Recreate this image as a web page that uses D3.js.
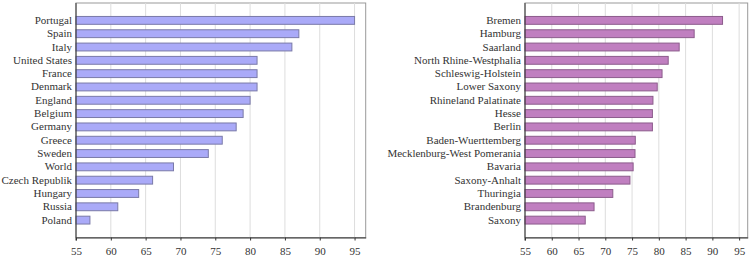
<!DOCTYPE html>
<html>
<head>
<meta charset="utf-8">
<script src="https://cdn.jsdelivr.net/npm/d3@7"></script>
<style>
  body { margin: 0; background: #fff; }
</style>
</head>
<body>
<div id="container"></div>
<script>
const countries = ["Portugal", "Spain", "Italy", "United States", "France", "Denmark",
  "England", "Belgium", "Germany", "Greece", "Sweden", "World", "Czech Republik",
  "Hungary", "Russia", "Poland"];
const countryValues = [95, 87, 86, 81, 81, 81, 80, 79, 78, 76, 74, 69, 66, 64, 61, 57];

const states = ["Bremen", "Hamburg", "Saarland", "North Rhine-Westphalia", "Schleswig-Holstein",
  "Lower Saxony", "Rhineland Palatinate", "Hesse", "Berlin", "Baden-Wuerttemberg",
  "Mecklenburg-West Pomerania", "Bavaria", "Saxony-Anhalt", "Thuringia", "Brandenburg", "Saxony"];
const stateValues = [91.9, 86.6, 83.8, 81.75, 80.6, 79.7, 78.9, 78.8, 78.8, 75.6,
  75.55, 75.2, 74.6, 71.4, 67.9, 66.25];

const xTicks = [55, 60, 65, 70, 75, 80, 85, 90, 95];
const font = "'Liberation Serif', 'DejaVu Serif', serif";

const svg = d3.select("#container").append("svg")
  .attr("width", 751).attr("height", 256);

const drawPanel = (labels, values, left, right, fill, stroke) => {
  const top = 3, bottom = 237.5;
  const x = d3.scaleLinear().domain([55, 96.6]).range([left, right]);
  const y = d3.scaleBand().domain(labels).range([top + 8, bottom - 8]).padding(0.41);
  const g = svg.append("g");

  // frame top/right
  g.append("rect")
    .attr("x", left).attr("y", top)
    .attr("width", right - left).attr("height", bottom - top)
    .attr("fill", "none").attr("stroke", "#999").attr("stroke-width", 1);

  g.selectAll(".grid").data(xTicks).enter().append("line")
    .attr("x1", (d) => x(d)).attr("x2", (d) => x(d))
    .attr("y1", top).attr("y2", bottom)
    .attr("stroke", "#ddd").attr("stroke-width", 1);

  g.selectAll(".bar").data(labels).enter().append("rect")
    .attr("x", left)
    .attr("y", (d) => y(d))
    .attr("width", (d, i) => x(values[i]) - left)
    .attr("height", y.bandwidth())
    .attr("fill", fill).attr("stroke", stroke).attr("stroke-width", 1);

  const xAxis = d3.axisBottom(x).tickValues(xTicks).tickSize(3).tickSizeOuter(0);
  const ax = g.append("g").attr("transform", `translate(0,${bottom})`).call(xAxis)
    .attr("font-family", font).attr("font-size", 11);
  ax.select(".domain").attr("stroke", "#333");
  ax.selectAll(".tick line").attr("stroke", "#333");
  ax.selectAll("text").attr("dy", "1em").attr("fill", "#333");

  const yAxis = d3.axisLeft(y).tickSize(0).tickPadding(4);
  const ay = g.append("g").attr("transform", `translate(${left},0)`).call(yAxis)
    .attr("font-family", font).attr("font-size", 11);
  ay.select(".domain").attr("stroke", "#333").attr("d", `M0,${top}V${bottom + 3}`);
  ay.selectAll("text").attr("fill", "#333");
};

drawPanel(countries, countryValues, 76, 365.7, "#aaaaf8", "#7a7aa8");
drawPanel(states, stateValues, 525, 747.7, "#c07fc0", "#8c5c8c");
</script>
</body>
</html>
